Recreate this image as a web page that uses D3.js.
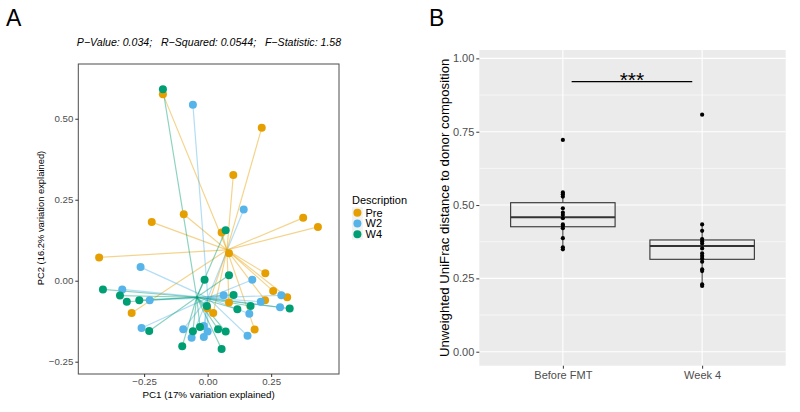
<!DOCTYPE html>
<html><head><meta charset="utf-8">
<script src="https://cdn.jsdelivr.net/npm/d3@7"></script>
<style>
body{margin:0;background:#fff}
text{font-family:"Liberation Sans",Arial,Helvetica,sans-serif}
</style>
</head><body>
<svg id="c" width="800" height="412"></svg>
<script>
// ---------- Panel A data (PCoA) ----------
const groups = ["Pre","W2","W4"];
const groupColors = ["#E69F00","#56B4E9","#009E73"];
const preX = [-0.176,0.213,0.101,-0.094,-0.220,0.376,0.434,0.055,-0.427,0.084,0.227,0.258,0.313,0.226,0.084,-0.002,0.022,-0.299,0.185];
const preY = [0.576,0.472,0.326,0.205,0.181,0.194,0.166,0.149,0.072,0.085,0.023,-0.032,-0.051,-0.060,-0.067,-0.085,-0.100,-0.100,-0.151];
const w2X = [-0.058,0.142,-0.264,-0.336,-0.228,0.176,0.063,0.290,0.209,0.164,0.285,-0.260,-0.096,-0.063,-0.015,0.000,-0.015,0.157];
const w2Y = [0.543,0.220,0.042,-0.027,-0.060,0.003,-0.045,-0.045,-0.065,-0.102,-0.082,-0.146,-0.150,-0.176,-0.140,-0.157,-0.174,-0.170];
const w4X = [-0.176,0.071,-0.412,-0.345,-0.318,-0.269,-0.012,0.084,0.102,0.117,0.169,0.323,-0.003,-0.230,-0.058,-0.030,0.041,0.071,-0.100,0.055];
const w4Y = [0.591,0.156,-0.027,-0.046,-0.065,-0.060,0.003,0.017,-0.044,-0.088,-0.078,-0.086,-0.078,-0.155,-0.156,-0.143,-0.150,-0.157,-0.202,-0.211];
const centroidX = [0.076,0.001,-0.043];
const centroidY = [0.095,-0.053,-0.051];
const ticksA = [-0.25,0,0.25];
const ticksAY = [-0.25,0,0.25,0.5];
const titleA = "P\u2212Value: 0.034;   R\u2212Squared: 0.0544;   F\u2212Statistic: 1.58";

// ---------- Panel B data (boxplot) ----------
const categoriesB = ["Before FMT","Week 4"];
const boxQ1 = [0.426,0.315];
const boxMed = [0.458,0.360];
const boxQ3 = [0.508,0.381];
const whiskLo = [0.349,0.224];
const whiskHi = [0.543,0.434];
const ptsBefore = [0.543,0.537,0.529,0.489,0.474,0.466,0.455,0.434,0.429,0.421,0.387,0.356,0.349,0.722];
const ptsWeek4 = [0.434,0.412,0.384,0.377,0.369,0.352,0.335,0.326,0.318,0.307,0.281,0.275,0.230,0.224,0.808];
const ticksB = [0,0.25,0.5,0.75,1];
const minorB = [0.125,0.375,0.625,0.875];
const sigSpan = [1.063,1.929];
const sigY = 0.921;

const svg = d3.select("#c");

// ================= PANEL A =================
const xA = d3.scaleLinear().domain([-0.509,0.517]).range([78.3,339]);
const yA = d3.scaleLinear().domain([-0.288,0.669]).range([374,64]);
const gA = svg.append("g");

gA.append("rect").attr("x",xA.range()[0]).attr("y",yA.range()[1])
  .attr("width",xA.range()[1]-xA.range()[0]).attr("height",yA.range()[0]-yA.range()[1])
  .attr("fill","#fff");

const series = [[preX,preY],[w2X,w2Y],[w4X,w4Y]];
// segments
series.forEach((s,gi)=>{
  gA.append("g").selectAll("line").data(s[0].map((x,i)=>[x,s[1][i]])).join("line")
    .attr("x1",d=>xA(d[0])).attr("y1",d=>yA(d[1]))
    .attr("x2",xA(centroidX[gi])).attr("y2",yA(centroidY[gi]))
    .attr("stroke",groupColors[gi]).attr("stroke-opacity",0.45).attr("stroke-width",1.2);
});
// points
series.forEach((s,gi)=>{
  gA.append("g").selectAll("circle").data(s[0].map((x,i)=>[x,s[1][i]])).join("circle")
    .attr("cx",d=>xA(d[0])).attr("cy",d=>yA(d[1])).attr("r",4)
    .attr("fill",groupColors[gi]);
});
// frame
gA.append("rect").attr("x",xA.range()[0]).attr("y",yA.range()[1])
  .attr("width",xA.range()[1]-xA.range()[0]).attr("height",yA.range()[0]-yA.range()[1])
  .attr("fill","none").attr("stroke","#4d4d4d").attr("stroke-width",1);

const fmt = d3.format(".2f");
const axA = gA.append("g").attr("transform",`translate(0,${yA.range()[0]})`)
  .call(d3.axisBottom(xA).tickValues(ticksA).tickFormat(fmt).tickSize(3).tickPadding(1.5));
const ayA = gA.append("g").attr("transform",`translate(${xA.range()[0]},0)`)
  .call(d3.axisLeft(yA).tickValues(ticksAY).tickFormat(fmt).tickSize(3).tickPadding(2));
[axA,ayA].forEach(a=>{
  a.select(".domain").remove();
  a.selectAll(".tick line").attr("stroke","#333");
  a.selectAll(".tick text").attr("fill","#4d4d4d").style("font-size","9.7px");
});

gA.append("text").attr("x",208.6).attr("y",398).attr("text-anchor","middle")
  .style("font-size","9.8px").text("PC1 (17% variation explained)");
gA.append("text").attr("transform","translate(44,218) rotate(-90)").attr("text-anchor","middle")
  .style("font-size","9.4px").text("PC2 (16.2% variation explained)");
gA.append("text").attr("x",209).attr("y",46).attr("text-anchor","middle")
  .style("font-size","10.6px").style("font-style","italic").style("white-space","pre").text(titleA);
svg.append("text").attr("x",6).attr("y",26).style("font-size","23px").text("A");

// legend
const lg = gA.append("g");
lg.append("text").attr("x",352).attr("y",204).style("font-size","11px").text("Description");
groups.forEach((g,i)=>{
  const cy = 212.7 + i*10.8;
  lg.append("rect").attr("x",352).attr("y",cy-5.4).attr("width",10.8).attr("height",10.8).attr("fill","#f2f2f2");
  lg.append("circle").attr("cx",357.4).attr("cy",cy).attr("r",4).attr("fill",groupColors[i]);
  lg.append("text").attr("x",365.5).attr("y",cy+3.9).style("font-size","11px").text(g);
});

// ================= PANEL B =================
const xB = d3.scaleLinear().domain([0.4,2.6]).range([479.3,785.7]);
const yB = d3.scaleLinear().domain([-0.0477,1.0286]).range([365.7,50]);
const gB = svg.append("g");
gB.append("rect").attr("x",xB.range()[0]).attr("y",yB.range()[1])
  .attr("width",xB.range()[1]-xB.range()[0]).attr("height",yB.range()[0]-yB.range()[1])
  .attr("fill","#EBEBEB");
gB.append("g").selectAll("line").data(minorB).join("line")
  .attr("x1",xB.range()[0]).attr("x2",xB.range()[1]).attr("y1",d=>yB(d)).attr("y2",d=>yB(d))
  .attr("stroke","#fff").attr("stroke-width",0.55);
gB.append("g").selectAll("line").data(ticksB).join("line")
  .attr("x1",xB.range()[0]).attr("x2",xB.range()[1]).attr("y1",d=>yB(d)).attr("y2",d=>yB(d))
  .attr("stroke","#fff").attr("stroke-width",1.1);
gB.append("g").selectAll("line").data(categoriesB).join("line")
  .attr("x1",(d,i)=>xB(i+1)).attr("x2",(d,i)=>xB(i+1)).attr("y1",yB.range()[0]).attr("y2",yB.range()[1])
  .attr("stroke","#fff").attr("stroke-width",1.1);

const bw = 0.75;
categoriesB.forEach((c,i)=>{
  const cx = xB(i+1);
  gB.append("line").attr("x1",cx).attr("x2",cx).attr("y1",yB(whiskHi[i])).attr("y2",yB(boxQ3[i]))
    .attr("stroke","#333").attr("stroke-width",1);
  gB.append("line").attr("x1",cx).attr("x2",cx).attr("y1",yB(boxQ1[i])).attr("y2",yB(whiskLo[i]))
    .attr("stroke","#333").attr("stroke-width",1);
  gB.append("rect").attr("x",xB(i+1-bw/2)).attr("width",xB(i+1+bw/2)-xB(i+1-bw/2))
    .attr("y",yB(boxQ3[i])).attr("height",yB(boxQ1[i])-yB(boxQ3[i]))
    .attr("fill","none").attr("stroke","#333").attr("stroke-width",1.1);
  gB.append("line").attr("x1",xB(i+1-bw/2)).attr("x2",xB(i+1+bw/2))
    .attr("y1",yB(boxMed[i])).attr("y2",yB(boxMed[i]))
    .attr("stroke","#333").attr("stroke-width",2);
});
[ptsBefore,ptsWeek4].forEach((p,i)=>{
  gB.append("g").selectAll("circle").data(p).join("circle")
    .attr("cx",xB(i+1)).attr("cy",d=>yB(d)).attr("r",2.1).attr("fill","#000");
});
// significance
gB.append("line").attr("x1",xB(sigSpan[0])).attr("x2",xB(sigSpan[1]))
  .attr("y1",yB(sigY)).attr("y2",yB(sigY)).attr("stroke","#000").attr("stroke-width",1.3);
gB.append("text").attr("x",(xB(sigSpan[0])+xB(sigSpan[1]))/2).attr("y",yB(sigY)+5)
  .attr("text-anchor","middle").style("font-size","21px").text("***");

const axB = gB.append("g").attr("transform",`translate(0,${yB.range()[0]})`)
  .call(d3.axisBottom(xB).tickValues([1,2]).tickFormat((d)=>categoriesB[d-1]).tickSize(3).tickPadding(3));
const ayB = gB.append("g").attr("transform",`translate(${xB.range()[0]},0)`)
  .call(d3.axisLeft(yB).tickValues(ticksB).tickFormat(fmt).tickSize(3).tickPadding(2));
[axB,ayB].forEach(a=>{
  a.select(".domain").remove();
  a.selectAll(".tick line").attr("stroke","#333");
  a.selectAll(".tick text").attr("fill","#4d4d4d").style("font-size","11px");
});
gB.append("text").attr("transform",`translate(449,${(yB.range()[0]+yB.range()[1])/2}) rotate(-90)`)
  .attr("text-anchor","middle").style("font-size","13.2px").text("Unweighted UniFrac distance to donor composition");
svg.append("text").attr("x",429).attr("y",26).style("font-size","23px").text("B");
</script>
</body></html>
